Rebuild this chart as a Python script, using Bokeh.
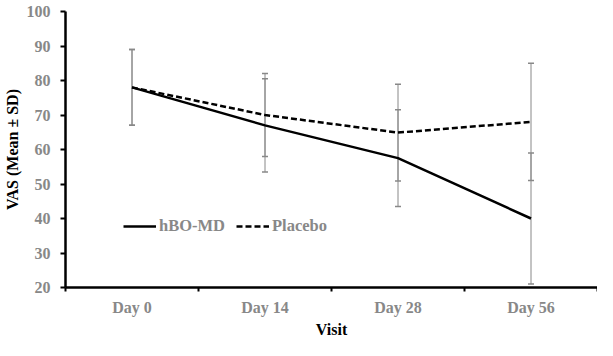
from bokeh.plotting import figure
from bokeh.models import (ColumnDataSource, Range1d, FixedTicker, Whisker, TeeHead,
                          Legend, LegendItem)
from bokeh.embed import file_html
from bokeh.resources import INLINE

visits = ["Day 0", "Day 14", "Day 28", "Day 56"]
hbo_mean = [78.0, 67.0, 57.5, 40.0]
hbo_sd = [11.0, 13.5, 14.0, 19.0]
placebo_mean = [78.0, 70.0, 64.9, 68.0]
placebo_sd = [11.0, 12.0, 14.0, 17.0]
y_ticks = [20, 30, 40, 50, 60, 70, 80, 90, 100]

FONT = "Liberation Serif"
GREY = "#888888"

xpos = [i + 0.5 for i in range(len(visits))]

p = figure(width=597, height=340, output_backend="svg", toolbar_location=None,
           x_range=Range1d(0, len(visits)), y_range=Range1d(20, 100),
           min_border_left=61, min_border_right=0, min_border_top=11, min_border_bottom=44)
p.outline_line_color = None
p.xgrid.visible = False
p.ygrid.visible = False
p.background_fill_color = "white"
p.border_fill_color = "white"

def mk(m, s):
    return ColumnDataSource(dict(x=xpos, y=m,
                                 lo=[a - b for a, b in zip(m, s)],
                                 hi=[a + b for a, b in zip(m, s)]))

src_h = mk(hbo_mean, hbo_sd)
src_p = mk(placebo_mean, placebo_sd)

for src in (src_p, src_h):
    w = Whisker(source=src, base="x", lower="lo", upper="hi", level="underlay",
                line_color=GREY, line_width=1,
                lower_head=TeeHead(size=6, line_color=GREY, line_width=1.5),
                upper_head=TeeHead(size=6, line_color=GREY, line_width=1.5))
    p.add_layout(w)

r_h = p.line("x", "y", source=src_h, line_color="black", line_width=2.5)
r_p = p.line("x", "y", source=src_p, line_color="black", line_width=2.5, line_dash="6 3")

legend = Legend(items=[LegendItem(label="hBO-MD", renderers=[r_h]),
                       LegendItem(label="Placebo", renderers=[r_p])],
                orientation="horizontal", location=(58, 51),
                glyph_width=33, glyph_height=12, label_standoff=3, spacing=11,
                padding=0, margin=0, border_line_color=None, background_fill_alpha=0,
                label_text_font=FONT, label_text_font_style="bold",
                label_text_font_size="16.5px", label_text_color=GREY)
p.add_layout(legend, "center")

# x axis
xa = p.xaxis[0]
xa.ticker = FixedTicker(ticks=xpos, minor_ticks=list(range(len(visits) + 1)))
xa.major_label_overrides = {x: v for x, v in zip(xpos, visits)}
xa.major_tick_out = 0
xa.major_tick_in = 0
xa.minor_tick_out = 4
xa.minor_tick_in = 0
xa.minor_tick_line_color = "black"
xa.minor_tick_line_width = 2
xa.axis_line_width = 2.5
xa.axis_line_color = "black"
xa.major_label_text_font = FONT
xa.major_label_text_font_style = "bold"
xa.major_label_text_font_size = "16px"
xa.major_label_text_color = GREY
xa.major_label_standoff = 7
xa.axis_label = "Visit"
xa.axis_label_text_font = FONT
xa.axis_label_text_font_style = "bold"
xa.axis_label_text_font_size = "16px"
xa.axis_label_text_color = "black"
xa.axis_label_standoff = 2

# y axis
ya = p.yaxis[0]
ya.ticker = FixedTicker(ticks=y_ticks, minor_ticks=[])
ya.major_tick_out = 5
ya.major_tick_in = 0
ya.major_tick_line_width = 2
ya.major_tick_line_color = "black"
ya.axis_line_width = 2.5
ya.axis_line_color = "black"
ya.major_label_text_font = FONT
ya.major_label_text_font_style = "bold"
ya.major_label_text_font_size = "16px"
ya.major_label_text_color = GREY
ya.major_label_standoff = 10
ya.axis_label = "VAS (Mean ± SD)"
ya.axis_label_text_font = FONT
ya.axis_label_text_font_style = "bold"
ya.axis_label_text_font_size = "16px"
ya.axis_label_text_color = "black"
ya.axis_label_standoff = 3

open("out.html", "w").write(file_html(p, INLINE))
